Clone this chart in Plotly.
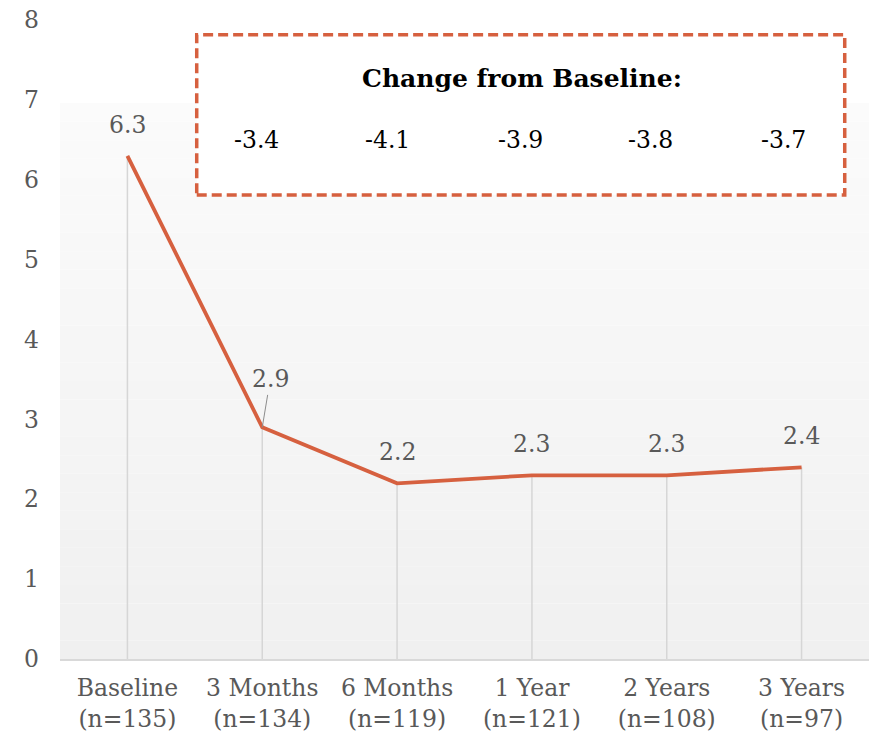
import plotly.graph_objects as go

categories = ["Baseline<br>(n=135)", "3 Months<br>(n=134)", "6 Months<br>(n=119)",
              "1 Year<br>(n=121)", "2 Years<br>(n=108)", "3 Years<br>(n=97)"]
values = [6.3, 2.9, 2.2, 2.3, 2.3, 2.4]
change_values = ["-3.4", "-4.1", "-3.9", "-3.8", "-3.7"]
change_title = "Change from Baseline:"
y_ticks = [0, 1, 2, 3, 4, 5, 6, 7, 8]

LINE = "#D6603F"
GREY_TXT = "#595959"
FONT = "DejaVu Serif"
FS = 23.5

fig = go.Figure()

# drop lines
dx, dy = [], []
for c, v in zip(categories, values):
    dx += [c, c, None]
    dy += [0, v, None]
fig.add_trace(go.Scatter(x=dx, y=dy, mode="lines",
                         line=dict(color="#d6d6d6", width=1.5),
                         hoverinfo="skip", showlegend=False))

fig.add_trace(go.Scatter(x=categories, y=values, mode="lines",
                         line=dict(color=LINE, width=3.8),
                         showlegend=False))

# data labels
for i, (c, v) in enumerate(zip(categories, values)):
    if i == 1:
        fig.add_annotation(x=c, y=v, text=f"{v:.1f}", showarrow=True,
                           arrowhead=0, arrowwidth=1, arrowcolor="#8c8c8c",
                           ax=8, ay=-48, standoff=0,
                           font=dict(family=FONT, size=FS, color=GREY_TXT))
    else:
        fig.add_annotation(x=c, y=v, text=f"{v:.1f}", showarrow=False,
                           yshift=31, font=dict(family=FONT, size=FS, color=GREY_TXT))

# background gradient (bands)
n = 30
top_p = 0.870
c_top, c_bot = 251, 240
for k in range(n):
    y0 = top_p * k / n
    y1 = top_p * (k + 1) / n
    g = round(c_bot + (c_top - c_bot) * (k + 0.5) / n)
    fig.add_shape(type="rect", xref="paper", yref="paper", x0=0, x1=1, y0=y0, y1=y1,
                  fillcolor=f"rgb({g},{g},{g})", line=dict(width=0), layer="below")

# dashed box
fig.add_shape(type="rect", xref="paper", yref="paper", x0=0.169, x1=0.970, y0=0.726, y1=0.977,
              line=dict(color=LINE, width=3.5, dash="10px,5px"), fillcolor="white", layer="above")
fig.add_annotation(xref="paper", yref="paper", x=0.571, y=0.909, text=f"<b>{change_title}</b>",
                   showarrow=False, xanchor="center", yanchor="middle",
                   font=dict(family=FONT, size=25, color="black"))
cx = [0.2435, 0.405, 0.569, 0.730, 0.894]
for x, t in zip(cx, change_values):
    fig.add_annotation(xref="paper", yref="paper", x=x, y=0.812, text=t, showarrow=False,
                       xanchor="center", yanchor="middle",
                       font=dict(family=FONT, size=FS, color="black"))

fig.update_layout(
    width=869, height=739,
    margin=dict(l=60, r=0, t=20, b=80),
    paper_bgcolor="white", plot_bgcolor="rgba(0,0,0,0)",
    font=dict(family=FONT, size=FS, color=GREY_TXT),
)
fig.update_xaxes(type="category", range=[-0.5, 5.5], showgrid=False, zeroline=False,
                 showline=True, linecolor="#d9d9d9", linewidth=1.5, ticks="",
                 ticklabelstandoff=7, tickfont=dict(family=FONT, size=FS, color=GREY_TXT))
fig.update_yaxes(range=[0, 8], tickvals=y_ticks, showgrid=False, zeroline=False,
                 showline=False, ticks="", ticklabelstandoff=20,
                 tickfont=dict(family=FONT, size=FS, color=GREY_TXT))

fig.write_html("out.html")
